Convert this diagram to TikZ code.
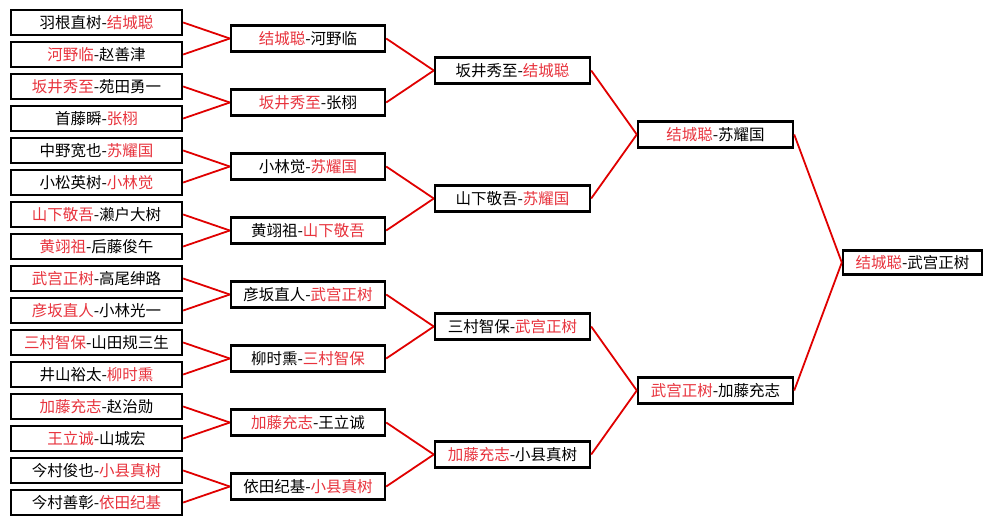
\documentclass[tikz,border=0pt]{standalone}
\usepackage{fontspec}
\setmainfont{Noto Sans CJK SC}
\usepackage{xcolor}
\usepackage{tikz}
\definecolor{winred}{HTML}{E8333D}
\definecolor{linkred}{HTML}{E00000}
\newcommand{\wn}[1]{\textcolor{winred}{#1}}

\begin{document}
\begin{tikzpicture}[x=1pt, y=-1pt,
  match/.style={draw=black, line width=2.4pt, fill=white, inner sep=0pt,
                minimum height=25pt, font=\fontsize{15.5}{17}\selectfont},
  r1box/.style={match, minimum width=171pt},
  r2box/.style={match, minimum width=154pt, minimum height=26pt},
  r3box/.style={match, minimum width=155pt, minimum height=26pt},
  finbox/.style={match, minimum width=139pt, minimum height=24pt},
  link/.style={draw=linkred, line width=1.8pt}]
  \useasboundingbox[fill=white] (0,0) rectangle (992,525);

  % first round
  \foreach \i/\txt in {0/{羽根直树-\wn{结城聪}}, 1/{\wn{河野临}-赵善津},
      2/{\wn{坂井秀至}-苑田勇一}, 3/{首藤瞬-\wn{张栩}},
      4/{中野宽也-\wn{苏耀国}}, 5/{小松英树-\wn{小林觉}},
      6/{\wn{山下敬吾}-濑户大树}, 7/{\wn{黄翊祖}-后藤俊午},
      8/{\wn{武宫正树}-高尾绅路}, 9/{\wn{彦坂直人}-小林光一},
      10/{\wn{三村智保}-山田规三生}, 11/{井山裕太-\wn{柳时熏}},
      12/{\wn{加藤充志}-赵治勋}, 13/{\wn{王立诚}-山城宏},
      14/{今村俊也-\wn{小县真树}}, 15/{今村善彰-\wn{依田纪基}}}
    \node[r1box] (a\i) at (96.5,{22.5+32*\i}) {\txt};

  % second round
  \foreach \i/\txt in {0/{\wn{结城聪}-河野临}, 1/{\wn{坂井秀至}-张栩},
      2/{小林觉-\wn{苏耀国}}, 3/{黄翊祖-\wn{山下敬吾}},
      4/{彦坂直人-\wn{武宫正树}}, 5/{柳时熏-\wn{三村智保}},
      6/{\wn{加藤充志}-王立诚}, 7/{依田纪基-\wn{小县真树}}}
    \node[r2box] (b\i) at (308,{38.5+64*\i}) {\txt};

  % quarter and semi finals
  \foreach \i/\txt in {0/{坂井秀至-\wn{结城聪}}, 1/{山下敬吾-\wn{苏耀国}},
      2/{三村智保-\wn{武宫正树}}, 3/{\wn{加藤充志}-小县真树}}
    \node[r3box] (c\i) at (512.5,{70.5+128*\i}) {\txt};
  \node[r3box] (d0) at (715.5,134.5) {\wn{结城聪}-苏耀国};
  \node[r3box] (d1) at (715.5,390.5) {\wn{武宫正树}-加藤充志};
  \node[finbox] (fin) at (912.5,262.5) {\wn{结城聪}-武宫正树};

  % links
  \foreach \i in {0,...,15} {
    \pgfmathtruncatemacro{\p}{floor(\i/2)}
    \draw[link] (a\i.east) -- (b\p.west);
  }
  \foreach \i in {0,...,7} {
    \pgfmathtruncatemacro{\p}{floor(\i/2)}
    \draw[link] (b\i.east) -- (c\p.west);
  }
  \foreach \i in {0,...,3} {
    \pgfmathtruncatemacro{\p}{floor(\i/2)}
    \draw[link] (c\i.east) -- (d\p.west);
  }
  \draw[link] (d0.east) -- (fin.west);
  \draw[link] (d1.east) -- (fin.west);
\end{tikzpicture}
\end{document}
